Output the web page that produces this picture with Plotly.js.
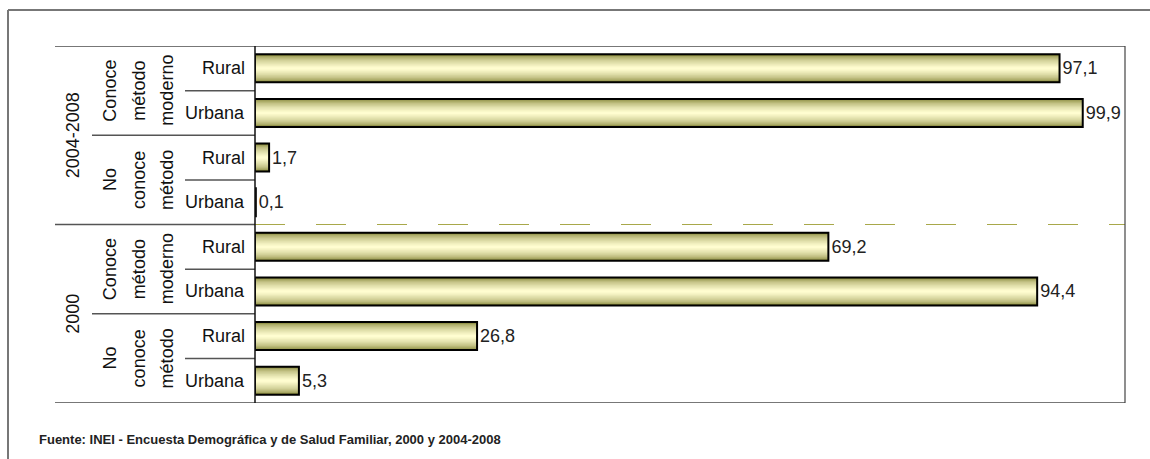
<!DOCTYPE html>
<html>
<head>
<meta charset="utf-8">
<script src="https://cdn.plot.ly/plotly-3.0.1.min.js"></script>
<style>
html,body{margin:0;padding:0;background:#fff;}
#chart{width:1150px;height:459px;}
</style>
</head>
<body>
<div id="chart"></div>
<script>
// ---- data ----
const groups = ['2004-2008', '2000'];
const subgroups = [['Conoce', 'método', 'moderno'], ['No', 'conoce', 'método']];
const areas = ['Rural', 'Urbana'];
const values2004 = [97.1, 99.9, 1.7, 0.1];   // Conoce Rural, Conoce Urbana, No conoce Rural, No conoce Urbana
const values2000 = [69.2, 94.4, 26.8, 5.3];
const source = 'Fuente: INEI - Encuesta Demográfica y de Salud Familiar, 2000 y 2004-2008';

// ---- build rows ----
const groupValues = [values2004, values2000];
const xs = [], ys = [], rowLabels = [];
let idx = 0;
groups.forEach((g, gi) => {
  subgroups.forEach((s, si) => {
    areas.forEach((a, ai) => {
      xs.push(groupValues[gi][si * areas.length + ai]);
      ys.push(idx);
      rowLabels.push(a);
      idx++;
    });
  });
});
const nRows = idx;

// ---- style ----
const FONT = '"Liberation Sans", Arial, sans-serif';
const BAR_W = 0.63;
const dark = [118, 118, 38], light = [255, 253, 208];
const N = 12;
const traces = [];
for (let k = 0; k < N; k++) {
  const t = Math.pow(k / (N - 1), 0.5);
  const c = dark.map((d, i) => Math.round(d + (light[i] - d) * t));
  traces.push({
    type: 'bar', orientation: 'h', x: xs, y: ys,
    width: BAR_W * (1 - k / N),
    marker: {color: `rgb(${c[0]},${c[1]},${c[2]})`, line: {width: 0}},
    hoverinfo: 'skip', showlegend: false
  });
}
traces.push({
  type: 'bar', orientation: 'h', x: xs, y: ys, width: BAR_W,
  marker: {color: 'rgba(0,0,0,0)', line: {color: '#000', width: 2}},
  text: xs, texttemplate: '%{x:.1f}', textposition: 'outside',
  textfont: {family: FONT, size: 18, color: '#222'},
  cliponaxis: false, showlegend: false
});

// ---- layout helpers ----
const W = 1150, H = 459, L = 255, R = 25, T = 46, B = 56;
const pw = W - L - R, ph = H - T - B;
const px = v => (v - L) / pw;          // pixel x -> paper
const py = v => (H - B - v) / ph;      // pixel y -> paper

const shapes = [];
const annotations = [];
const lineC = '#555';
function hline(x0, x1, yData, color, width, dash) {
  shapes.push({type: 'line', xref: 'paper', yref: 'y', x0: x0, x1: x1, y0: yData, y1: yData,
    line: {color: color, width: width, dash: dash || 'solid'}});
}
for (let r = 0; r < nRows; r++) {
  annotations.push({xref: 'paper', yref: 'y', x: px(247), y: r, text: rowLabels[r],
    xanchor: 'right', yanchor: 'middle', showarrow: false,
    font: {family: FONT, size: 18, color: '#111'}});
}
const perSub = areas.length, perGroup = subgroups.length * areas.length;
for (let r = 1; r < nRows; r++) {
  const yb = r - 0.5;
  if (r % perGroup === 0) {
    hline(px(55), px(255), yb, lineC, 1.5);
    hline(0, 1, yb, '#a8a84a', 1.2, '30px,31px');
  } else if (r % perSub === 0) hline(px(92), px(255), yb, lineC, 1.5);
  else hline(px(185), px(255), yb, lineC, 1.5);
}
// top & bottom borders
hline(px(55), 1, -0.5, '#777', 2);
hline(px(55), 1, nRows - 0.5, '#777', 2);
// left axis line and right border
shapes.push({type: 'line', xref: 'paper', yref: 'paper', x0: 0, x1: 0, y0: 0, y1: 1, line: {color: '#111', width: 1.5}});
shapes.push({type: 'line', xref: 'paper', yref: 'paper', x0: 1, x1: 1, y0: 0, y1: 1, line: {color: '#444', width: 1.2}});
// outer frame
shapes.push({type: 'line', xref: 'paper', yref: 'paper', x0: px(8), x1: px(1152), y0: py(10), y1: py(10), line: {color: '#777', width: 2}});
shapes.push({type: 'line', xref: 'paper', yref: 'paper', x0: px(8), x1: px(8), y0: py(10), y1: py(462), line: {color: '#777', width: 2}});

// subgroup and group labels
const colX = [110, 139, 167];
groups.forEach((g, gi) => {
  const gc = gi * perGroup + (perGroup - 1) / 2;
  annotations.push({xref: 'paper', yref: 'y', x: px(73), y: gc, text: g, textangle: -90,
    xanchor: 'center', yanchor: 'middle', showarrow: false,
    font: {family: FONT, size: 18, color: '#111'}});
  subgroups.forEach((s, si) => {
    const sc = gi * perGroup + si * perSub + (perSub - 1) / 2;
    s.forEach((word, wi) => {
      annotations.push({xref: 'paper', yref: 'y', x: px(colX[wi]), y: sc, text: word, textangle: -90,
        xanchor: 'center', yanchor: 'middle', showarrow: false,
        font: {family: FONT, size: 18, color: '#111'}});
    });
  });
});
// source
annotations.push({xref: 'paper', yref: 'paper', x: px(37), y: py(439), text: source,
  xanchor: 'left', yanchor: 'middle', showarrow: false,
  font: {family: FONT, size: 13, color: '#222', weight: 'bold'}});

const layout = {
  width: W, height: H,
  margin: {l: L, r: R, t: T, b: B, pad: 0},
  paper_bgcolor: '#fff', plot_bgcolor: '#fff',
  barmode: 'overlay',
  separators: ',.',
  showlegend: false,
  xaxis: {range: [0, 105], showgrid: false, zeroline: false, showticklabels: false, showline: false, fixedrange: true},
  yaxis: {range: [nRows - 0.5, -0.5], showgrid: false, zeroline: false, showticklabels: false, showline: false, fixedrange: true},
  shapes: shapes,
  annotations: annotations
};
Plotly.newPlot('chart', traces, layout, {displayModeBar: false, staticPlot: true});
</script>
</body>
</html>
